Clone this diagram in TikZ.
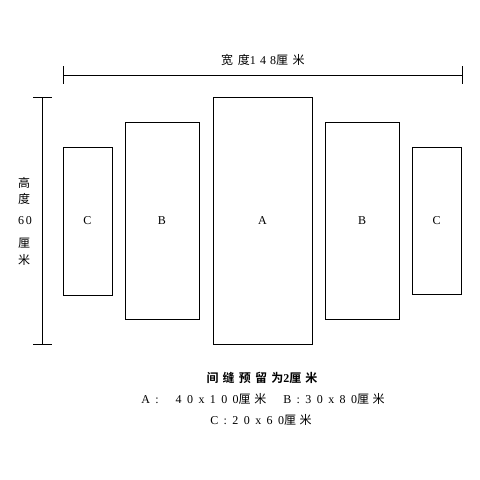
\documentclass[tikz,border=0pt]{standalone}
\usepackage{fontspec}
\setmainfont{Liberation Serif}
\newfontfamily\cjk[LetterSpace=30]{Noto Sans CJK SC}
\newfontfamily\cjkt[LetterSpace=38]{Noto Sans CJK SC}
\newfontfamily\cjkb[LetterSpace=35]{Noto Sans CJK SC Bold}
\newfontfamily\latn[LetterSpace=45]{Liberation Serif}
\newfontfamily\latns[LetterSpace=35]{Liberation Serif}
\newfontfamily\latnb[LetterSpace=20]{Liberation Serif Bold}
\newcommand{\lt}[1]{{\latn #1}}
\begin{document}
\begin{tikzpicture}[x=1pt,y=-1pt,
  panel/.style={draw,line width=1pt},
  lbl/.style={font=\fontsize{12}{14}\selectfont},
  dim/.style={line width=1pt},
  txt/.style={font=\cjk\fontsize{12}{14}\selectfont,inner sep=0pt}]
\useasboundingbox (0,0) rectangle (480,480);
\draw[panel] (63,147) rectangle (112,295) node[midway,lbl] (c1) {C};
\draw[panel] (125,122) rectangle (199,319) node[midway,lbl] (b1) {B};
\draw[panel] (213,97) rectangle (312,344) node[midway,lbl] (a) {A};
\draw[panel] (325,122) rectangle (399,319) node[midway,lbl] (b2) {B};
\draw[panel] (412,147) rectangle (461,294) node[midway,lbl] (c2) {C};
% width dimension
\coordinate (wl) at (63,75); \coordinate (wr) at (462,75);
\draw[dim] (wl) -- (wr);
\draw[dim] (63,66) -- (63,84);
\draw[dim] (462,66) -- (462,84);
\node[txt,font=\cjkt\fontsize{12}{14}\selectfont] (wt) at (263,60) {宽度{\latns 148}厘米};
% height dimension
\coordinate (ht) at (42,97); \coordinate (hb) at (42,344);
\draw[dim] (ht) -- (hb);
\draw[dim] (33,97) -- (52,97);
\draw[dim] (33,344) -- (52,344);
\node[txt] (h1) at (24,183) {高};
\node[txt] (h2) at (24,199) {度};
\node[txt] (h3) at (25,221) {\latns 6\hspace{2pt}0};
\node[txt] (h4) at (24,243) {厘};
\node[txt] (h5) at (24,260) {米};
% bottom text
\node[font=\cjkb\fontsize{12}{14}\selectfont,inner sep=0pt] (n1) at (262,378) {间缝预留为{\latnb 2}厘米};
\node[txt] (n2) at (263,399) {\lt{A:}\hspace{17pt}\lt{40x100}厘米\hspace{17pt}\lt{B:30x80}厘米};
\node[txt] (n3) at (261,420) {\lt{C:20x60}厘米};
\end{tikzpicture}
\end{document}
